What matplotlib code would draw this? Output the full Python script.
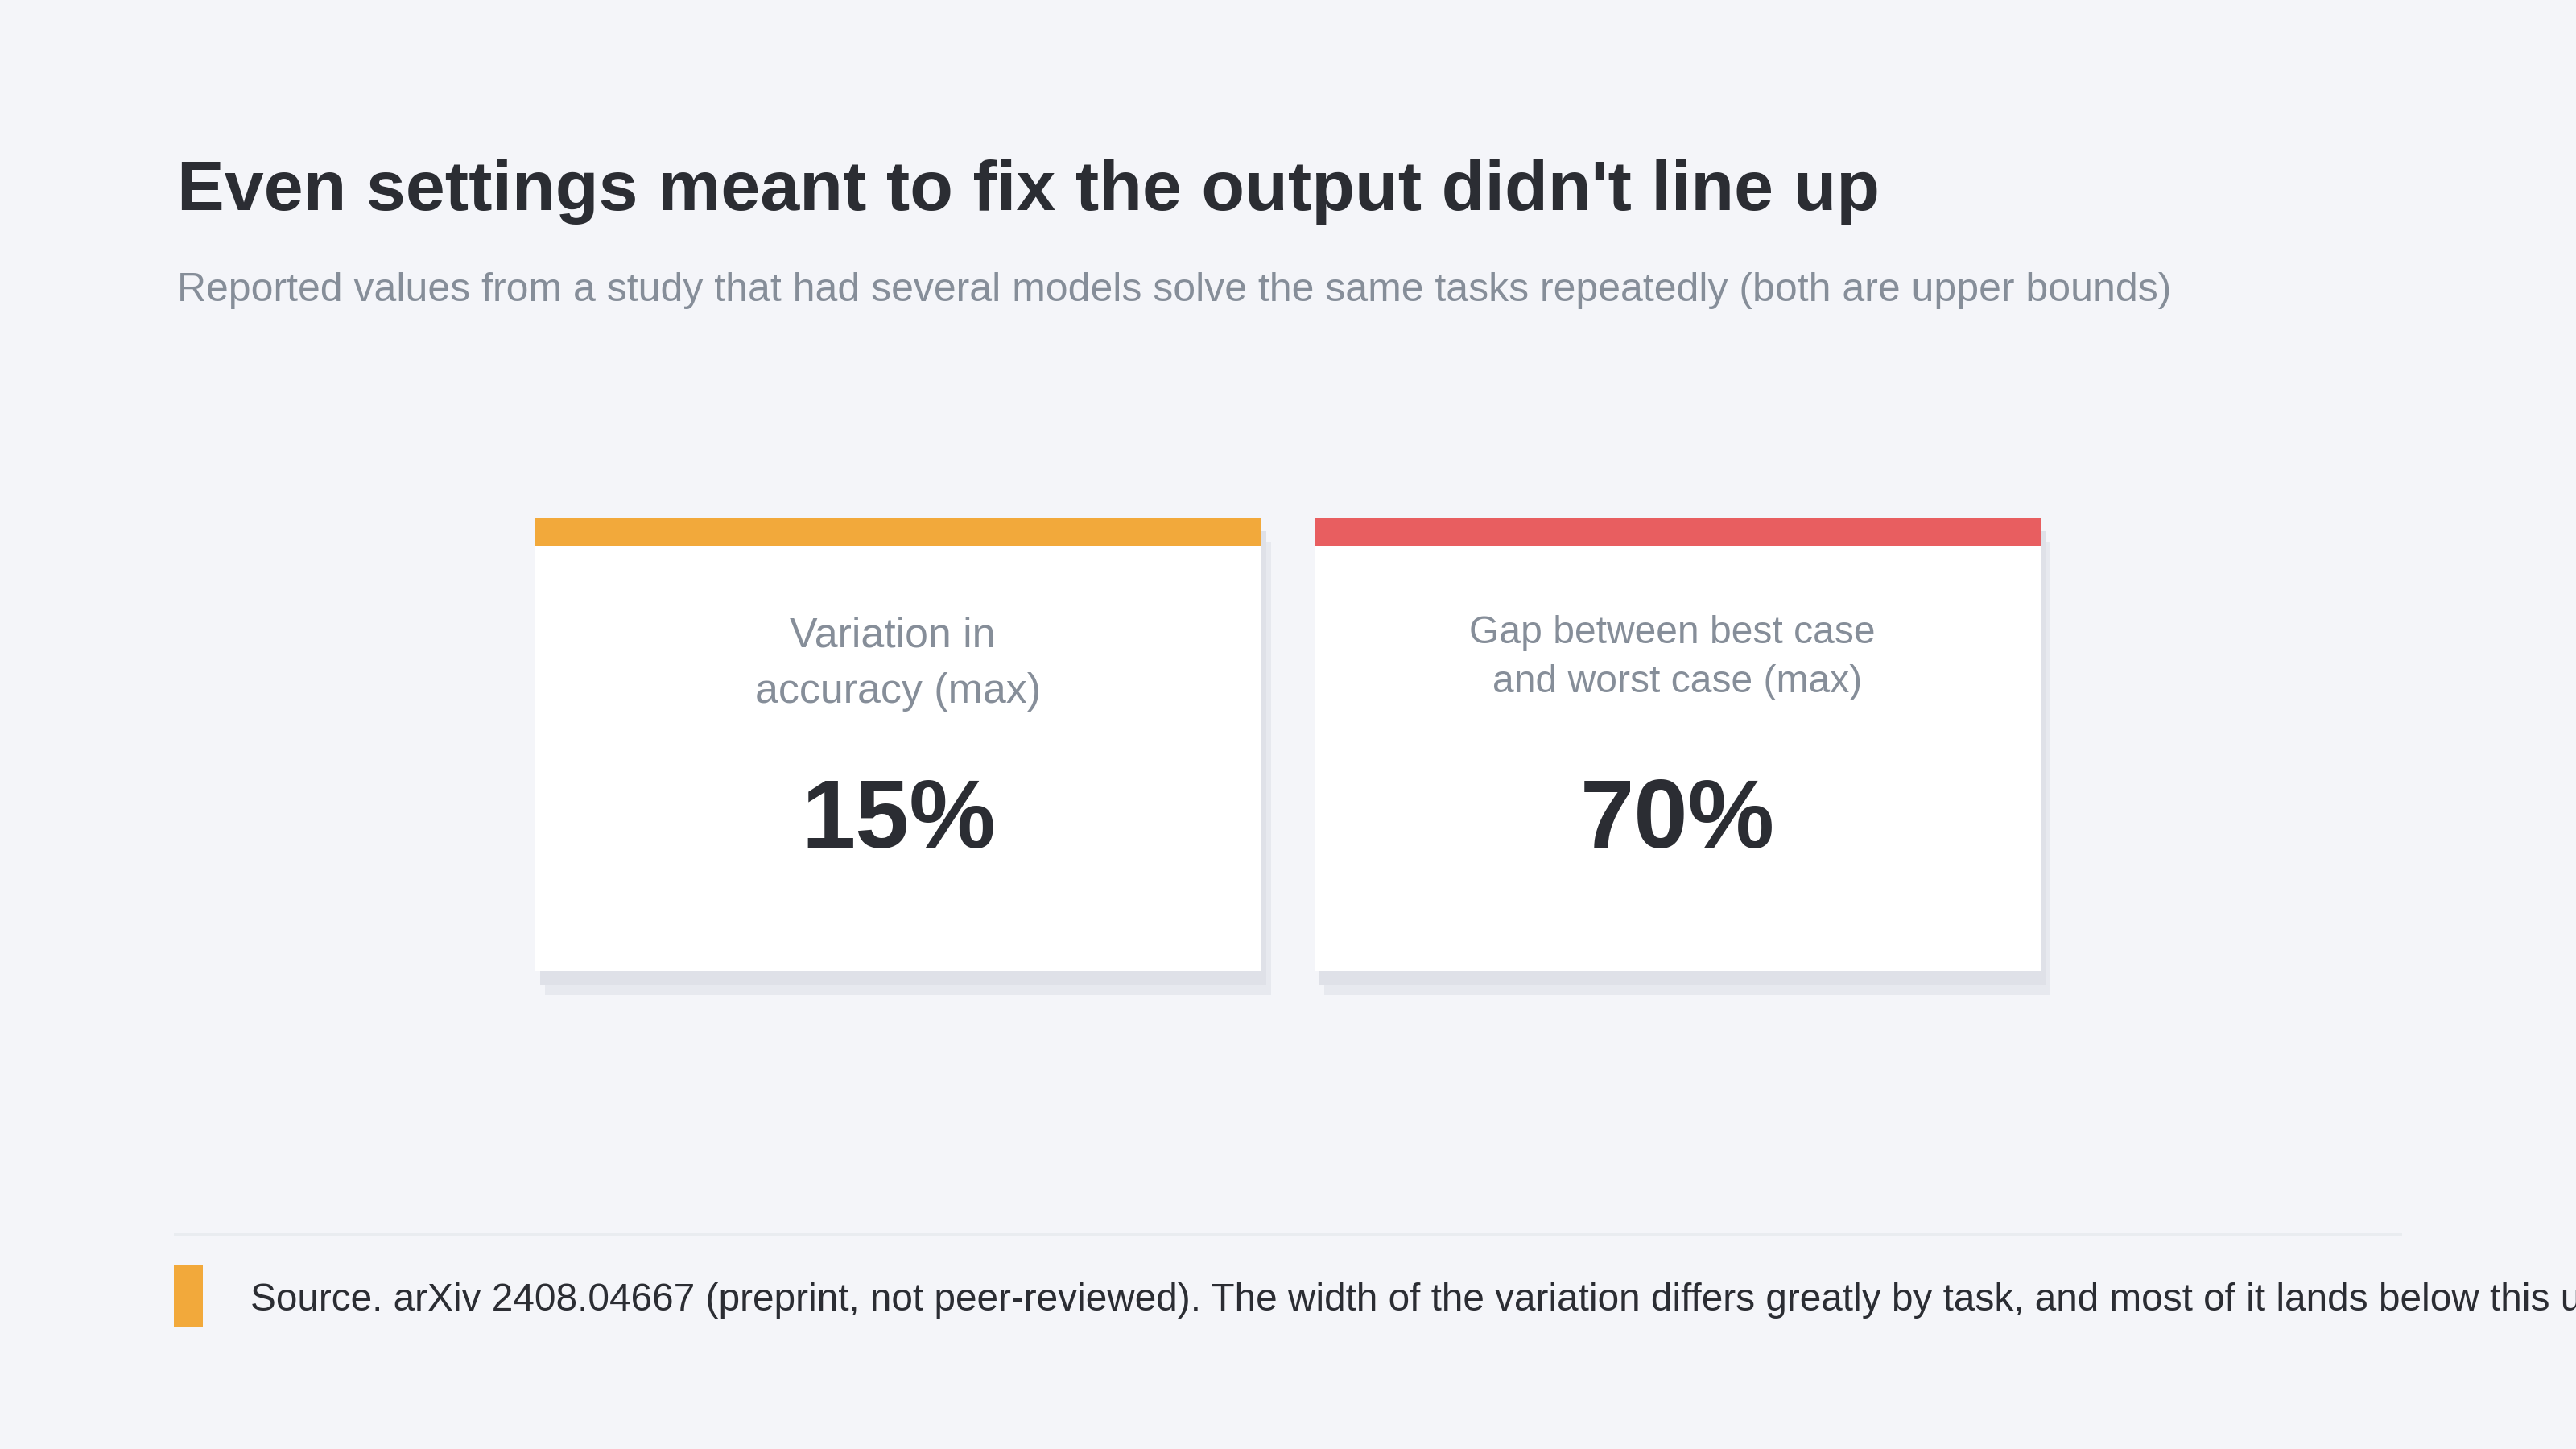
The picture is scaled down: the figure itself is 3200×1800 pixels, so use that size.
import matplotlib
matplotlib.use("Agg")
import matplotlib.pyplot as plt
from matplotlib.patches import Rectangle

plt.rcParams['font.family'] = ['Liberation Sans', 'DejaVu Sans']

# data
title = "Even settings meant to fix the output didn't line up"
subtitle = ("Reported values from a study that had several models solve the same tasks "
            "repeatedly (both are upper bounds)")
# first lines keep the trailing space of the wrapped html text
card_labels = [["Variation in ", "accuracy (max)"],
               ["Gap between best case ", "and worst case (max)"]]
card_values = [15, 70]
card_colors = ["#f2a93b", "#e85e60"]
source = ("Source. arXiv 2408.04667 (preprint, not peer-reviewed). The width of the variation "
          "differs greatly by task, and most of it lands below this upper bound.")

BG = "#f4f5f9"
DARK = "#2b2d33"
GRAY = "#868e99"

W, H = 3200, 1800
fig = plt.figure(figsize=(16, 9), dpi=200, facecolor=BG)
ax = fig.add_axes([0, 0, 1, 1])
ax.set_xlim(0, W)
ax.set_ylim(H, 0)
ax.axis('off')
ax.set_facecolor(BG)

# header
ax.text(220, 261, title, fontsize=31.7, fontweight='bold', color=DARK, va='baseline', ha='left')
ax.text(220, 374, subtitle, fontsize=18, color=GRAY, va='baseline', ha='left')

# cards
card_w, card_h, gap = 902, 563, 66
card_top = 643
bar_h = 35
left0 = W / 2 - card_w - gap / 2
label_sizes = [18.7, 17.3]
label_base = [[803, 873], [799, 860]]

for i, (lines, val, col) in enumerate(zip(card_labels, card_values, card_colors)):
    x0 = left0 + i * (card_w + gap)
    # shadow layers
    ax.add_patch(Rectangle((x0 + 12, card_top + 30), card_w, card_h, color="#e7e9ef", lw=0, zorder=1))
    ax.add_patch(Rectangle((x0 + 6, card_top + 17), card_w, card_h, color="#dfe1e8", lw=0, zorder=2))
    ax.add_patch(Rectangle((x0, card_top), card_w, card_h, color="white", lw=0, zorder=3))
    ax.add_patch(Rectangle((x0, card_top), card_w, bar_h, color=col, lw=0, zorder=4))
    cx = x0 + card_w / 2
    for line, yb in zip(lines, label_base[i]):
        ax.text(cx, yb, line, fontsize=label_sizes[i], color=GRAY, ha='center', va='baseline', zorder=5)
    ax.text(cx, 1053, f"{val}%", fontsize=43.5, fontweight='bold', color=DARK,
            ha='center', va='baseline', zorder=5)

# footer
ax.add_patch(Rectangle((216, 1532), 2984 - 216, 4, color="#e9ecf0", lw=0))
ax.add_patch(Rectangle((216, 1572), 36, 76, color=card_colors[0], lw=0))
ax.text(311, 1628, source, fontsize=17.2, color=DARK, ha='left', va='baseline')

fig.savefig("out.png", dpi=200, facecolor=BG)
